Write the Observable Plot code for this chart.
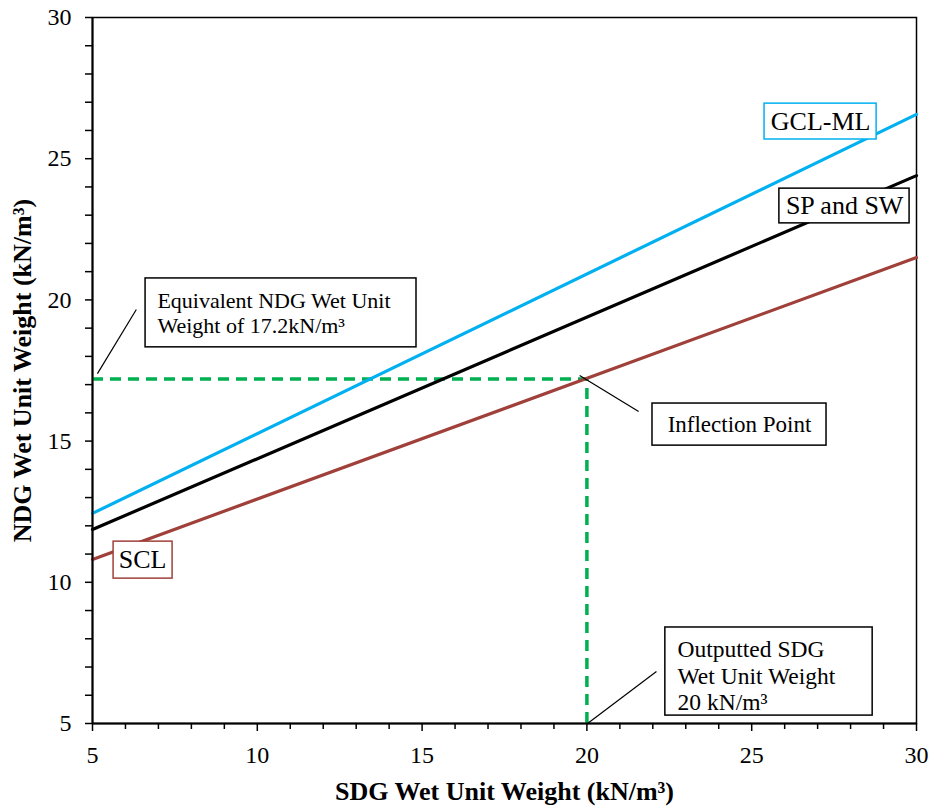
<!DOCTYPE html>
<html>
<head>
<meta charset="utf-8">
<script src="https://cdn.jsdelivr.net/npm/d3@7"></script>
<script src="https://cdn.jsdelivr.net/npm/@observablehq/plot@0.6"></script>
<style>
  html, body { margin: 0; padding: 0; background: #fff; }
</style>
</head>
<body>
<div id="chart"></div>
<script>
// ---- data ----
const sdg = [5, 30];
const gclMl = [12.44, 26.57];
const spSw = [11.87, 24.4];
const scl = [10.81, 21.5];

const outputSdg = 20;
const equivNdg = 17.2;

const majorTicks = [5, 10, 15, 20, 25, 30];
const minorTicks = [6,7,8,9,11,12,13,14,16,17,18,19,21,22,23,24,26,27,28,29];

const xTitle = "SDG Wet Unit Weight (kN/m³)";
const yTitle = "NDG Wet Unit Weight (kN/m³)";

// annotation boxes (data units)
const boxes = [
  {name: "equiv", x1: 6.61, x2: 14.83, y1: 20.76, y2: 18.32, stroke: "#000"},
  {name: "infl", x1: 21.99, x2: 27.27, y1: 16.33, y2: 14.84, stroke: "#000"},
  {name: "out", x1: 22.38, x2: 28.67, y1: 8.40, y2: 5.28, stroke: "#000"},
  {name: "gcl", x1: 25.39, x2: 28.79, y1: 26.95, y2: 25.68, stroke: "#00B0F0"},
  {name: "sp", x1: 25.84, x2: 29.79, y1: 23.94, y2: 22.71, stroke: "#000"},
  {name: "scl", x1: 5.64, x2: 7.43, y1: 11.44, y2: 10.13, stroke: "#A0403A"}
];
const leftLabels = [
  {text: "Equivalent NDG Wet Unit\nWeight of 17.2kN/m³", x: 6.97, y: 19.55, size: 22},
  {text: "Outputted SDG\nWet Unit Weight\n20 kN/m³", x: 22.75, y: 6.72, size: 23.5}
];
const centerLabels = [
  {text: "Inflection Point", x: 24.63, y: 15.59, size: 23},
  {text: "GCL-ML", x: 27.09, y: 26.32, size: 26},
  {text: "SP and SW", x: 27.82, y: 23.34, size: 26},
  {text: "SCL", x: 6.52, y: 10.79, size: 26}
];
const leaders = [
  {x1: 5.15, y1: 17.39, x2: 6.33, y2: 19.66},
  {x1: 19.78, y1: 17.32, x2: 21.57, y2: 16.05},
  {x1: 20.02, y1: 5.0, x2: 22.11, y2: 6.84}
];

const series = [
  {name: "SCL", values: scl, color: "#A0403A"},
  {name: "SP and SW", values: spSw, color: "#000000"},
  {name: "GCL-ML", values: gclMl, color: "#00B0F0"}
];
const lineData = series.flatMap(s => sdg.map((x, i) => ({x, y: s.values[i], name: s.name, color: s.color})));

const FONT = "Liberation Serif";

const chart = Plot.plot({
  width: 931,
  height: 806,
  marginLeft: 92,
  marginRight: 15,
  marginTop: 17,
  marginBottom: 83,
  x: {domain: [5, 30]},
  y: {domain: [5, 30]},
  marks: [
    Plot.frame({stroke: "#000", strokeWidth: 1.5}),
    // dashed guides
    Plot.ruleY([equivNdg], {x1: 5, x2: outputSdg, stroke: "#00B050", strokeWidth: 3.5, strokeDasharray: "11,7"}),
    Plot.ruleX([outputSdg], {y1: 5, y2: equivNdg, stroke: "#00B050", strokeWidth: 3.5, strokeDasharray: "11,7"}),
    // series lines
    Plot.line(lineData, {x: "x", y: "y", z: "name", stroke: "color", strokeWidth: 3.2}),
    // leaders
    Plot.link(leaders, {x1: "x1", y1: "y1", x2: "x2", y2: "y2", stroke: "#000", strokeWidth: 1.2}),
    // boxes
    Plot.rect(boxes, {x1: "x1", x2: "x2", y1: "y1", y2: "y2", fill: "#fff", stroke: "stroke", strokeWidth: 1.5}),
    Plot.text(leftLabels, {x: "x", y: "y", text: "text", fontSize: "size", textAnchor: "start", fontFamily: FONT, lineHeight: 1.14, lineAnchor: "middle", fill: "#000"}),
    Plot.text(centerLabels, {x: "x", y: "y", text: "text", fontSize: "size", textAnchor: "middle", fontFamily: FONT, lineAnchor: "middle", fill: "#000"}),
    // axes
    Plot.ruleX([5], {stroke: "#000", strokeWidth: 2}),
    Plot.ruleY([5], {stroke: "#000", strokeWidth: 2}),
    Plot.axisX(majorTicks, {tickSize: 8, tickPadding: 14, fontSize: 24, fontFamily: FONT, label: null, stroke: "#000", fill: "#000", strokeWidth: 1.5}),
    Plot.axisX(minorTicks, {tickSize: 6, tickFormat: () => "", label: null, stroke: "#000", strokeWidth: 1.5}),
    Plot.axisY(majorTicks, {tickSize: 7, tickPadding: 14, fontSize: 24, fontFamily: FONT, label: null, stroke: "#000", fill: "#000", strokeWidth: 1.5}),
    Plot.axisY(minorTicks, {tickSize: 7, tickFormat: () => "", label: null, stroke: "#000", strokeWidth: 1.5}),
    Plot.text([xTitle], {frameAnchor: "bottom", dy: 68, textAnchor: "middle", fontSize: 26, fontFamily: FONT, fontWeight: "bold", lineAnchor: "middle", fill: "#000"}),
    Plot.text([yTitle], {frameAnchor: "left", dx: -70, rotate: -90, textAnchor: "middle", fontSize: 26, fontFamily: FONT, fontWeight: "bold", lineAnchor: "middle", fill: "#000"})
  ]
});
document.getElementById("chart").appendChild(chart);
</script>
</body>
</html>
